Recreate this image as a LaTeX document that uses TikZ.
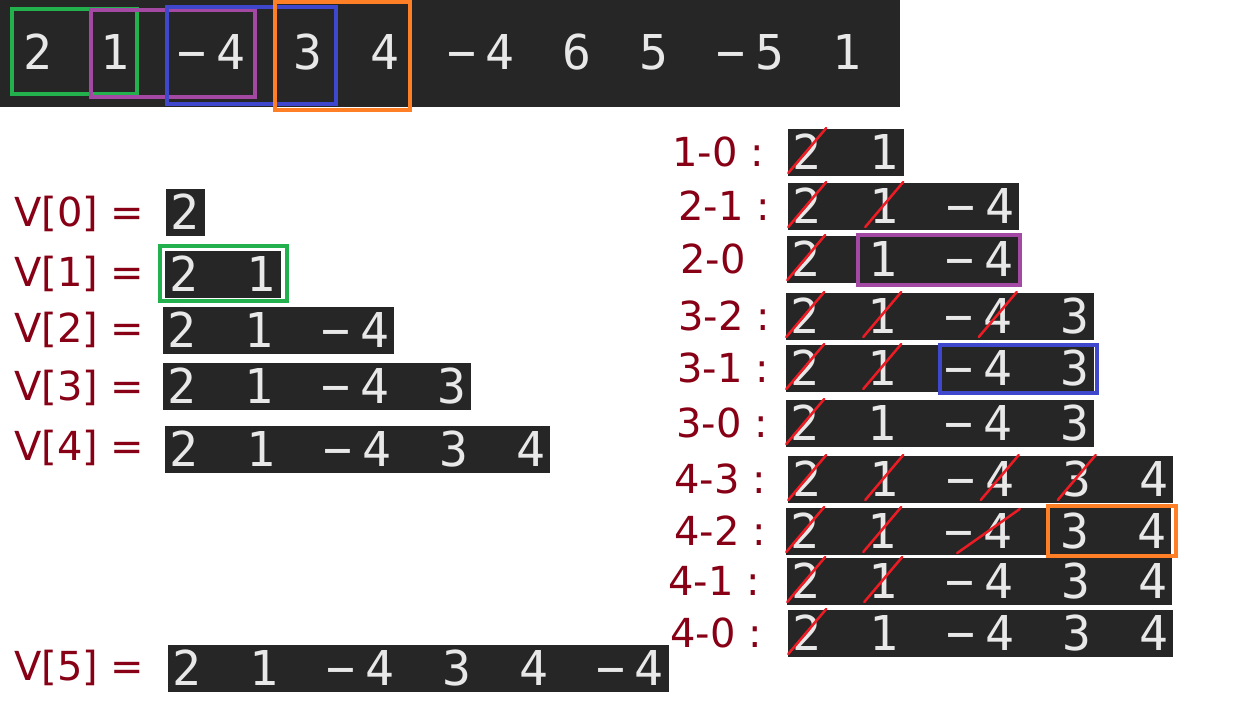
\documentclass[tikz,border=0pt]{standalone}
\usepackage{fontspec}
\usepackage{tikz}
\newfontfamily\codefont{DejaVu Sans Mono}
\newfontfamily\handfont{DejaVu Sans}

\definecolor{codebg}{HTML}{262626}
\definecolor{codefg}{HTML}{E8E8E8}
\definecolor{ink}{HTML}{880015}
\definecolor{penred}{HTML}{ED1C24}
\definecolor{pgreen}{HTML}{22B14C}
\definecolor{ppurple}{HTML}{A349A4}
\definecolor{pblue}{HTML}{3F48CC}
\definecolor{porange}{HTML}{FF7F27}

% one printed row: name, left x, centre y, number of cells
\newcommand\cellrow[4]{%
  \node[rowbox,minimum width=#4*38.5pt,anchor=west] (#1) at (#2,#3) {};
  \foreach \ch/\i in {2/0,1/2,−/4,4/5,3/7,4/9,−/11,4/12,6/14,5/16,−/18,5/19,1/21}
    {\ifnum\i<#4 \node[cell] (#1-\i) at ([xshift={(\i+0.5)*38.5pt}]#1.west) {\ch};\fi}%
}
\newcommand\crossout[1]{%
  \draw[pen] ([shift={(-19,21)}]#1.center) -- ([shift={(19,-24)}]#1.center);}

\begin{document}
\begin{tikzpicture}[x=1pt,y=-1pt,
  rowbox/.style={fill=codebg,inner sep=0pt,minimum height=47pt},
  cell/.style={text=codefg,inner sep=0pt,text height=35pt,text depth=0pt,
    font=\codefont\fontsize{48}{48}\selectfont},
  hand/.style={text=ink,anchor=west,inner sep=0pt,
    font=\handfont\fontsize{40}{40}\selectfont},
  pen/.style={draw=penred,line width=2.5pt,line cap=round},
  hl/.style={line width=4pt}]
 \fill[white] (0,0) rectangle (1235,705);
 \useasboundingbox (0,0) rectangle (1235,705);

 % the array
 \fill[codebg] (0,0) rectangle (900,107);
 \cellrow{top}{19}{52}{22}
 \draw[hl,draw=pgreen] (12,9) rectangle (137,94);
 \draw[hl,draw=ppurple] (91,10) rectangle (255,97);
 \draw[hl,draw=pblue] (167,7) rectangle (336,104);
 \draw[hl,draw=porange] (275,2) rectangle (410,110);

 % prefix sums
 \node[hand] (l0) at (14,214) {V[0] =};
 \cellrow{v0}{166}{212}{1}
 \node[hand] (l1) at (14,274) {V[1] =};
 \cellrow{v1}{165}{274}{3}
 \draw[hl,draw=pgreen] (160,246) rectangle (287,301);
 \node[hand] (l2) at (14,330) {V[2] =};
 \cellrow{v2}{163}{330}{6}
 \node[hand] (l3) at (14,388) {V[3] =};
 \cellrow{v3}{163}{386}{8}
 \node[hand] (l4) at (14,448) {V[4] =};
 \cellrow{v4}{165}{449}{10}
 \node[hand] (l5) at (14,668) {V[5] =};
 \cellrow{v5}{168}{668}{13}

 % sub-arrays
 \node[hand] (m10) at (672,152) {1-0 :};
 \cellrow{r10}{788}{152}{3}
 \crossout{r10-0}
 \node[hand] (m21) at (678,206) {2-1 :};
 \cellrow{r21}{788}{206}{6}
 \crossout{r21-0} \crossout{r21-2}
 \node[hand] (m20) at (680,259) {2-0};
 \cellrow{r20}{787}{259}{6}
 \crossout{r20-0}
 \draw[hl,draw=ppurple] (858,235) rectangle (1020,285);
 \node[hand] (m32) at (678,316) {3-2 :};
 \cellrow{r32}{786}{316}{8}
 \crossout{r32-0} \crossout{r32-2} \crossout{r32-5}
 \node[hand] (m31) at (677,368) {3-1 :};
 \cellrow{r31}{786}{368}{8}
 \crossout{r31-0} \crossout{r31-2}
 \draw[hl,draw=pblue] (940,345) rectangle (1097,393);
 \node[hand] (m30) at (676,423) {3-0 :};
 \cellrow{r30}{786}{423}{8}
 \crossout{r30-0}
 \node[hand] (m43) at (674,479) {4-3 :};
 \cellrow{r43}{788}{479}{10}
 \crossout{r43-0} \crossout{r43-2} \crossout{r43-5} \crossout{r43-7}
 \node[hand] (m42) at (674,531) {4-2 :};
 \cellrow{r42}{786}{531}{10}
 \crossout{r42-0} \crossout{r42-2}
 \draw[pen] ([shift={(-2,22)}]r42-4.center) -- ([shift={(22,-22)}]r42-5.center);
 \draw[hl,draw=porange] (1048,506) rectangle (1176,556);
 \node[hand] (m41) at (668,581) {4-1 :};
 \cellrow{r41}{787}{581}{10}
 \crossout{r41-0} \crossout{r41-2}
 \node[hand] (m40) at (670,633) {4-0 :};
 \cellrow{r40}{788}{633}{10}
 \crossout{r40-0}
\end{tikzpicture}
\end{document}
